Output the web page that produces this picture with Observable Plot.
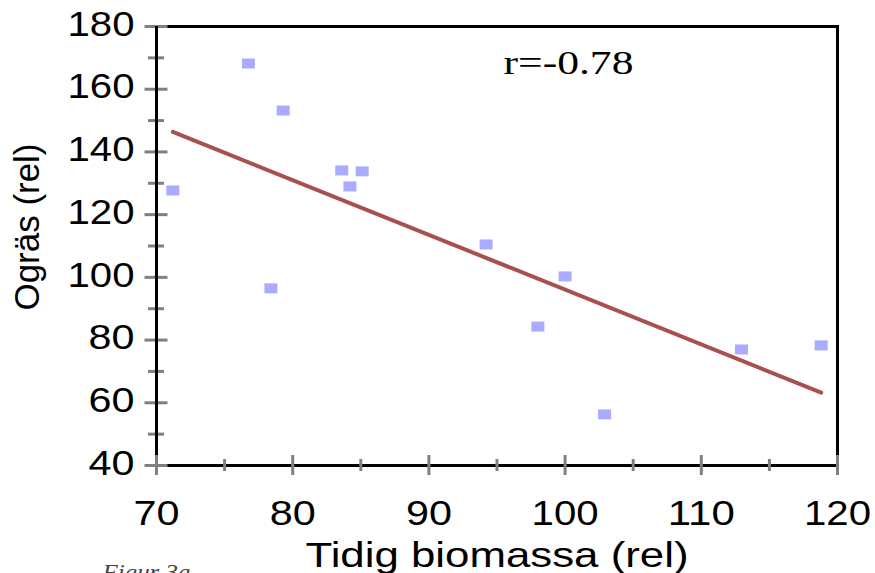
<!DOCTYPE html>
<html>
<head>
<meta charset="utf-8">
<script src="https://cdn.jsdelivr.net/npm/d3@7"></script>
<script src="https://cdn.jsdelivr.net/npm/@observablehq/plot@0.6"></script>
<style>
  html, body { margin: 0; padding: 0; background: #fff; overflow: hidden; }
</style>
</head>
<body>
<div id="chart"></div>
<script>
// Data
const biomassa = [71.2, 76.75, 79.3, 83.6, 85.1, 84.2, 78.4, 94.2, 100.0, 98.0, 102.9, 112.95, 118.8];
const ogras    = [127.7, 168.2, 153.2, 134.1, 133.8, 129.0, 96.5, 110.5, 100.3, 84.3, 56.3, 77.0, 78.3];

const xMajor = [70, 80, 90, 100, 110, 120];
const xMinor = [75, 85, 95, 105, 115];
const yMajor = [40, 60, 80, 100, 120, 140, 160, 180];
const yMinor = [50, 70, 90, 110, 130, 150, 170];

const xTitle = "Tidig biomassa (rel)";
const yTitle = "Ogräs (rel)";
const corrText = "r=-0.78";
const caption = "Figur 3a";

const table = biomassa.map((b, i) => ({biomassa: b, ogras: ogras[i]}));

const rectSymbol = {
  draw(context) {
    context.rect(-6.5, -5, 13, 10);
  }
};

const tickGray = "#808080";
const serif = "'Liberation Serif', 'Times New Roman', serif";

const chart = Plot.plot({
  width: 875,
  height: 573,
  marginLeft: 156,
  marginRight: 38,
  marginTop: 26,
  marginBottom: 108,
  style: {fontFamily: "'Liberation Sans', Arial, sans-serif", background: "white", color: "black"},
  x: {domain: [70, 120], label: null},
  y: {domain: [40, 180], label: null},
  marks: [
    Plot.frame({stroke: "black", strokeWidth: 3}),
    // y ticks (crossing the axis)
    Plot.axisY(yMajor, {anchor: "left", tickSize: 23, dx: 11.5, fill: "none", stroke: tickGray, strokeWidth: 3, label: null}),
    Plot.axisY(yMinor, {anchor: "left", tickSize: 16, dx: 8, fill: "none", stroke: tickGray, strokeWidth: 3, label: null}),
    Plot.ruleX([70], {stroke: "black", strokeWidth: 3}),
    // x ticks
    Plot.axisX(xMajor, {anchor: "bottom", tickSize: 20, dy: -10, fill: "none", stroke: tickGray, strokeWidth: 3, label: null}),
    Plot.axisX(xMinor, {anchor: "bottom", tickSize: 12, dy: -6, fill: "none", stroke: tickGray, strokeWidth: 3, label: null}),
    // tick labels
    Plot.axisY(yMajor, {anchor: "left", tickSize: 0, tickPadding: 22, dy: -2, fontSize: 35, stroke: "none", label: null}),
    Plot.axisX(xMajor, {anchor: "bottom", tickSize: 0, tickPadding: 35, fontSize: 35, stroke: "none", label: null}),
    // regression line
    Plot.linearRegressionY(table, {x: "biomassa", y: "ogras", ci: 0, stroke: "#a9504e", strokeWidth: 4}),
    // points
    Plot.dot(table, {x: "biomassa", y: "ogras", symbol: rectSymbol, fill: "#aaaaff", stroke: "none"}),
    // texts
    Plot.text([corrText], {text: d => d, frameAnchor: "top-left", textAnchor: "start", lineAnchor: "top", dx: 347, dy: 23, fontSize: 34, fontFamily: serif, fill: "black"}),
    Plot.text([xTitle], {text: d => d, frameAnchor: "bottom", textAnchor: "middle", lineAnchor: "top", dy: 77, fontSize: 35, fill: "black"}),
    Plot.text([yTitle], {text: d => d, frameAnchor: "left", textAnchor: "middle", rotate: -90, lineAnchor: "middle", dx: -129, dy: -19, fontSize: 35, fill: "black"}),
    Plot.text([caption], {text: d => d, frameAnchor: "bottom-left", textAnchor: "start", lineAnchor: "top", dx: -54, dy: 97, fontSize: 24, fontStyle: "italic", fontFamily: serif, fill: "#444"})
  ]
});

// Match the horizontally stretched lettering of the reference
const textWidths = new Map([[xTitle, 383], [yTitle, 167], [corrText, 130], [caption, 88]]);
d3.select(chart).selectAll("text").each(function () {
  const t = this.textContent.trim();
  let w = textWidths.get(t);
  if (w == null && /^\d+$/.test(t)) w = t.length === 3 ? 67 : 46;
  if (w != null) {
    d3.select(this).attr("textLength", w).attr("lengthAdjust", "spacingAndGlyphs");
  }
});

document.getElementById("chart").appendChild(chart);
</script>
</body>
</html>
